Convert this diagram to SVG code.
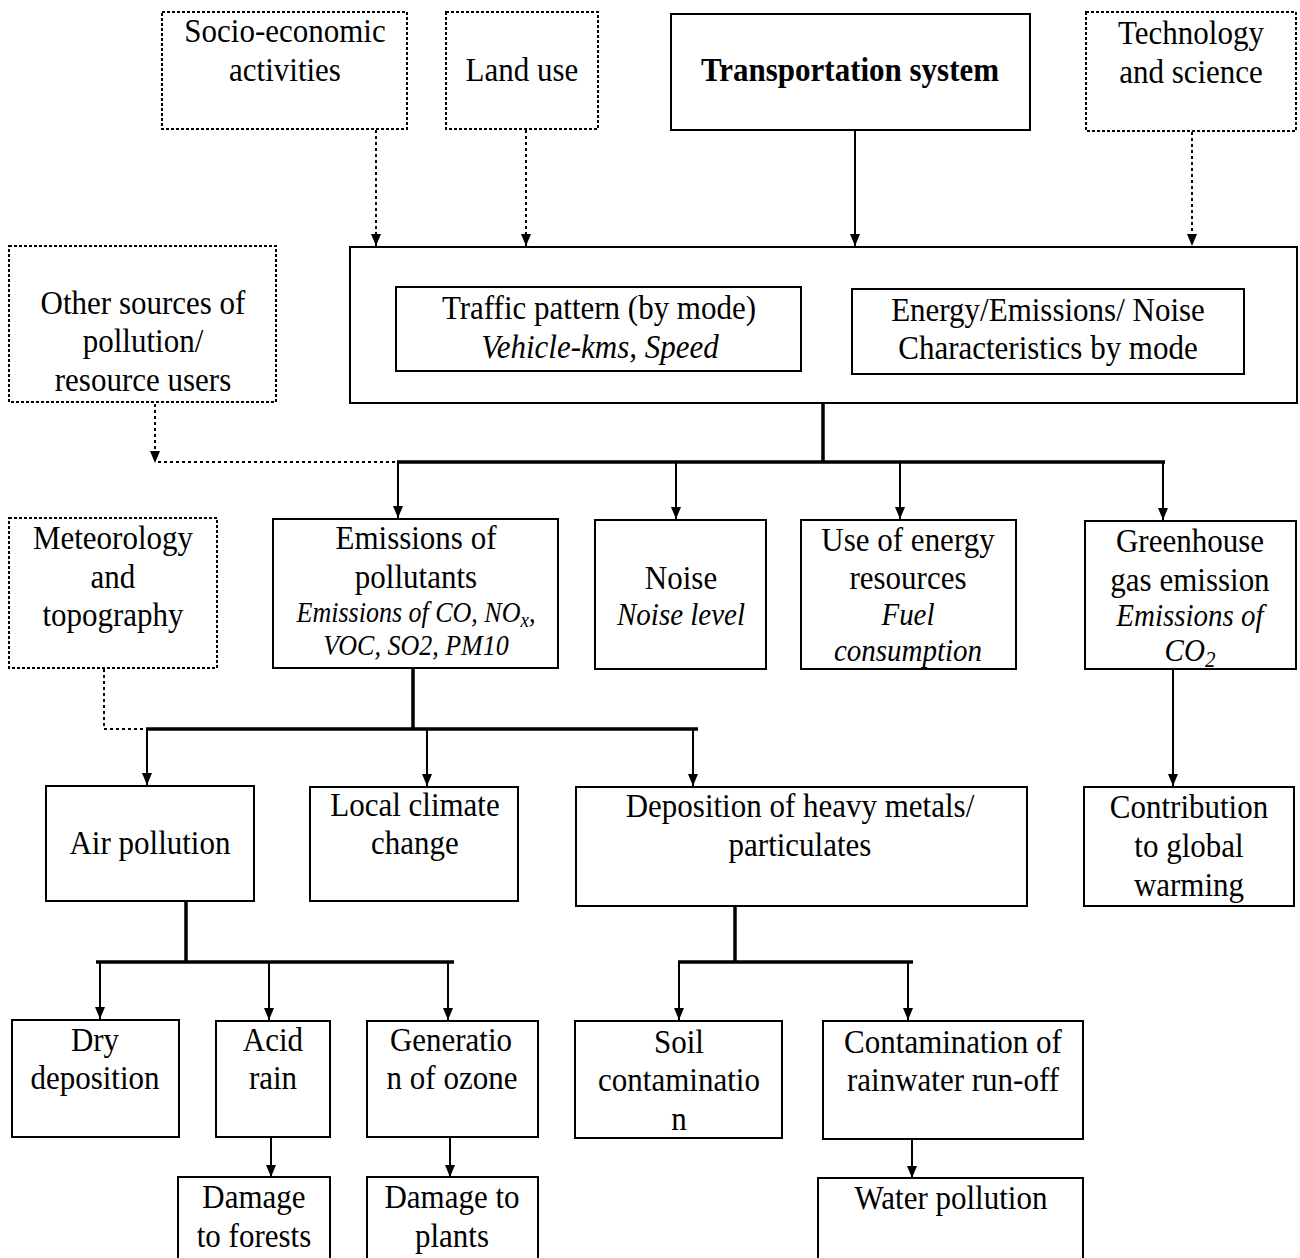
<svg xmlns="http://www.w3.org/2000/svg" width="1300" height="1258" viewBox="0 0 1300 1258">
  <style>
    .box { fill: #fff; stroke: #000; stroke-width: 2; }
    .dot { fill: #fff; stroke: #000; stroke-width: 2; stroke-dasharray: 3 2; }
    .t { font-family: "Liberation Serif", "DejaVu Serif", "Times New Roman", serif; font-size: 31px; fill: #000; text-anchor: middle;
         transform-box: fill-box; transform-origin: center; transform: scaleY(1.1); }
    .b { font-weight: bold; }
    .i { font-style: italic; font-size: 29px; }
    .s { font-style: italic; font-size: 26px; }
    .ln { fill: none; stroke: #000; stroke-width: 2; }
    .thick { fill: none; stroke: #000; stroke-width: 3.5; }
    .dl { fill: none; stroke: #000; stroke-width: 2; stroke-dasharray: 3 3; }
    .arr { marker-end: url(#ah); }
  </style>
  <defs>
    <marker id="ah" viewBox="0 0 12 10" refX="12" refY="5" markerWidth="12" markerHeight="10" markerUnits="userSpaceOnUse" orient="auto">
      <path d="M0,0 L12,5 L0,10 z" fill="#000"/>
    </marker>
  </defs>
  <rect width="1300" height="1258" fill="#fff"/>

  <!-- connectors -->
  <g id="connectors">
    <line class="dl arr" x1="376" y1="130" x2="376" y2="246"/>
    <line class="dl arr" x1="526" y1="130" x2="526" y2="246"/>
    <line class="ln arr" x1="855" y1="131" x2="855" y2="246"/>
    <line class="dl arr" x1="1192" y1="132" x2="1192" y2="246"/>

    <line class="thick" x1="823" y1="403" x2="823" y2="462"/>
    <line class="thick" x1="397" y1="462" x2="1165" y2="462"/>
    <line class="dl arr" x1="155" y1="404" x2="155" y2="463"/>
    <line class="dl" x1="158" y1="462" x2="397" y2="462"/>
    <line class="ln arr" x1="398" y1="462" x2="398" y2="518"/>
    <line class="ln arr" x1="676" y1="462" x2="676" y2="519"/>
    <line class="ln arr" x1="900" y1="462" x2="900" y2="519"/>
    <line class="ln arr" x1="1163" y1="462" x2="1163" y2="520"/>

    <line class="thick" x1="413" y1="668" x2="413" y2="729"/>
    <line class="thick" x1="146" y1="729" x2="698" y2="729"/>
    <polyline class="dl" points="104,669 104,729 146,729"/>
    <line class="ln arr" x1="147" y1="729" x2="147" y2="785"/>
    <line class="ln arr" x1="427" y1="729" x2="427" y2="786"/>
    <line class="ln arr" x1="693" y1="729" x2="693" y2="786"/>
    <line class="ln arr" x1="1173" y1="669" x2="1173" y2="786"/>

    <line class="thick" x1="186" y1="901" x2="186" y2="962"/>
    <line class="thick" x1="96" y1="962" x2="454" y2="962"/>
    <line class="ln arr" x1="100" y1="962" x2="100" y2="1019"/>
    <line class="ln arr" x1="269" y1="962" x2="269" y2="1020"/>
    <line class="ln arr" x1="448" y1="962" x2="448" y2="1020"/>

    <line class="thick" x1="735" y1="906" x2="735" y2="962"/>
    <line class="thick" x1="678" y1="962" x2="913" y2="962"/>
    <line class="ln arr" x1="679" y1="962" x2="679" y2="1020"/>
    <line class="ln arr" x1="908" y1="962" x2="908" y2="1020"/>

    <line class="ln arr" x1="271" y1="1137" x2="271" y2="1177"/>
    <line class="ln arr" x1="450" y1="1137" x2="450" y2="1177"/>
    <line class="ln arr" x1="912" y1="1139" x2="912" y2="1178"/>
  </g>

  <!-- top row -->
  <g id="socio">
    <rect class="dot" x="162" y="12" width="245" height="117"/>
    <text class="t" x="285" y="41">Socio-economic</text>
    <text class="t" x="285" y="80">activities</text>
  </g>
  <g id="landuse">
    <rect class="dot" x="446" y="12" width="152" height="117"/>
    <text class="t" x="522" y="80">Land use</text>
  </g>
  <g id="transport">
    <rect class="box" x="671" y="14" width="359" height="116"/>
    <text class="t b" x="850" y="80">Transportation system</text>
  </g>
  <g id="technology">
    <rect class="dot" x="1086" y="12" width="210" height="119"/>
    <text class="t" x="1191" y="43">Technology</text>
    <text class="t" x="1191" y="82">and science</text>
  </g>

  <!-- second row -->
  <g id="other-sources">
    <rect class="dot" x="9" y="246" width="267" height="156"/>
    <text class="t" x="143" y="313">Other sources of</text>
    <text class="t" x="143" y="351">pollution/</text>
    <text class="t" x="143" y="390">resource users</text>
  </g>
  <g id="system">
    <rect class="box" x="350" y="247" width="947" height="156"/>
  </g>
  <g id="traffic">
    <rect class="box" x="396" y="287" width="405" height="84"/>
    <text class="t" x="599" y="318">Traffic pattern (by mode)</text>
    <text class="t i" x="600" y="357" style="font-size:31px">Vehicle-kms, Speed</text>
  </g>
  <g id="characteristics">
    <rect class="box" x="852" y="289" width="392" height="85"/>
    <text class="t" x="1048" y="320">Energy/Emissions/ Noise</text>
    <text class="t" x="1048" y="358">Characteristics by mode</text>
  </g>

  <!-- third row -->
  <g id="meteorology">
    <rect class="dot" x="9" y="518" width="208" height="150"/>
    <text class="t" x="113" y="548">Meteorology</text>
    <text class="t" x="113" y="587">and</text>
    <text class="t" x="113" y="625">topography</text>
  </g>
  <g id="emissions">
    <rect class="box" x="273" y="519" width="285" height="149"/>
    <text class="t" x="416" y="548">Emissions of</text>
    <text class="t" x="416" y="587">pollutants</text>
    <text class="t s" x="416" y="621">Emissions of CO, NO<tspan font-size="19" dy="5">x</tspan><tspan dy="-5">,</tspan></text>
    <text class="t s" x="416" y="654">VOC, SO2, PM10</text>
  </g>
  <g id="noise">
    <rect class="box" x="595" y="520" width="171" height="149"/>
    <text class="t" x="681" y="588">Noise</text>
    <text class="t i" x="681" y="624">Noise level</text>
  </g>
  <g id="energy">
    <rect class="box" x="801" y="520" width="215" height="149"/>
    <text class="t" x="908" y="550">Use of energy</text>
    <text class="t" x="908" y="588">resources</text>
    <text class="t i" x="908" y="624">Fuel</text>
    <text class="t i" x="908" y="660">consumption</text>
  </g>
  <g id="greenhouse">
    <rect class="box" x="1085" y="521" width="211" height="148"/>
    <text class="t" x="1190" y="551">Greenhouse</text>
    <text class="t" x="1190" y="590">gas emission</text>
    <text class="t i" x="1190" y="625">Emissions of</text>
    <text class="t i" x="1190" y="660">CO<tspan font-size="21" dy="6">2</tspan></text>
  </g>

  <!-- fourth row -->
  <g id="air">
    <rect class="box" x="46" y="786" width="208" height="115"/>
    <text class="t" x="150" y="853">Air pollution</text>
  </g>
  <g id="climate">
    <rect class="box" x="310" y="787" width="208" height="114"/>
    <text class="t" x="415" y="815">Local climate</text>
    <text class="t" x="415" y="853">change</text>
  </g>
  <g id="deposition">
    <rect class="box" x="576" y="787" width="451" height="119"/>
    <text class="t" x="800" y="816">Deposition of heavy metals/</text>
    <text class="t" x="800" y="855">particulates</text>
  </g>
  <g id="global-warming">
    <rect class="box" x="1084" y="787" width="210" height="119"/>
    <text class="t" x="1189" y="817">Contribution</text>
    <text class="t" x="1189" y="856">to global</text>
    <text class="t" x="1189" y="895">warming</text>
  </g>

  <!-- fifth row -->
  <g id="dry">
    <rect class="box" x="12" y="1020" width="167" height="117"/>
    <text class="t" x="95" y="1050">Dry</text>
    <text class="t" x="95" y="1088">deposition</text>
  </g>
  <g id="acid">
    <rect class="box" x="216" y="1021" width="114" height="116"/>
    <text class="t" x="273" y="1050">Acid</text>
    <text class="t" x="273" y="1088">rain</text>
  </g>
  <g id="ozone">
    <rect class="box" x="367" y="1021" width="171" height="116"/>
    <text class="t" x="451" y="1050">Generatio</text>
    <text class="t" x="452" y="1088">n of ozone</text>
  </g>
  <g id="soil">
    <rect class="box" x="575" y="1021" width="207" height="117"/>
    <text class="t" x="679" y="1052">Soil</text>
    <text class="t" x="679" y="1090">contaminatio</text>
    <text class="t" x="679" y="1129">n</text>
  </g>
  <g id="runoff">
    <rect class="box" x="823" y="1021" width="260" height="118"/>
    <text class="t" x="953" y="1052">Contamination of</text>
    <text class="t" x="953" y="1090">rainwater run-off</text>
  </g>

  <!-- bottom row -->
  <g id="forests">
    <rect class="box" x="178" y="1177" width="152" height="84"/>
    <text class="t" x="254" y="1207">Damage</text>
    <text class="t" x="254" y="1246">to forests</text>
  </g>
  <g id="plants">
    <rect class="box" x="367" y="1177" width="171" height="84"/>
    <text class="t" x="452" y="1207">Damage to</text>
    <text class="t" x="452" y="1246">plants</text>
  </g>
  <g id="water">
    <rect class="box" x="818" y="1178" width="265" height="83"/>
    <text class="t" x="951" y="1208">Water pollution</text>
  </g>
</svg>
